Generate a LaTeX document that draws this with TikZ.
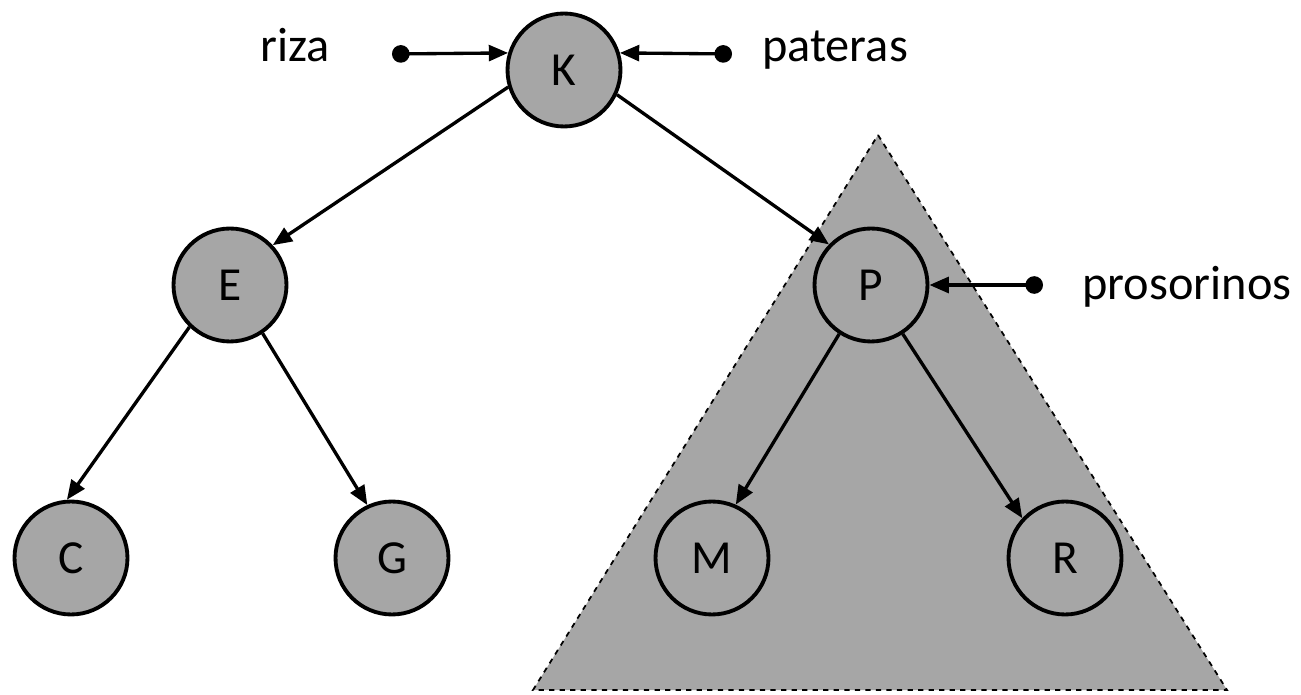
\documentclass[tikz,border=0pt]{standalone}
\usepackage{fontspec}
\setmainfont{Carlito}
\usetikzlibrary{arrows.meta}
\definecolor{treegray}{HTML}{A6A6A6}

\begin{document}
\begin{tikzpicture}[x=0.02cm,y=-0.02cm,
  vertex/.style={circle,draw,line width=2.2pt,fill=treegray,minimum size=2.26cm,inner sep=0pt,font=\fontsize{27}{31}\selectfont},
  edge/.style={line width=1.9pt,-{Triangle[length=11pt,width=9pt]}},
  pointer/.style={line width=1.9pt,{Circle[length=10pt]}-{Triangle[length=11pt,width=9pt]}},
  ptrname/.style={anchor=base,font=\fontsize{27.5}{31}\selectfont}]
\useasboundingbox (0,0) rectangle (1301,695);
% subtree of P
\draw[fill=treegray,dashed,line width=1pt] (878,135) -- (1227,690) -- (533,690) -- cycle;
% nodes
\node[vertex] (K) at (564,70) {K};
\node[vertex] (E) at (230,285) {E};
\node[vertex] (P) at (871,285) {P};
\node[vertex] (C) at (71,558) {C};
\node[vertex] (G) at (392,558) {G};
\node[vertex] (M) at (712,558) {M};
\node[vertex] (R) at (1065,558) {R};
% tree edges
\draw[edge] (K.197) -- (E.43);
\draw[edge] (K.335) -- (P.136);
\draw[edge] (E.226) -- (C.94);
\draw[edge] (E.304) -- (G.115);
\draw[edge] (P.237) -- (M.66);
\draw[edge] (P.303) -- (R.137);
% pointers
\coordinate (riza) at (392,54);
\coordinate (pateras) at (732,54);
\coordinate (prosorinos) at (1043,285);
\draw[pointer] (riza) -- (K.163);
\draw[pointer] (pateras) -- (K.17);
\draw[pointer] (prosorinos) -- (P.east);
\node[ptrname] (rizaname) at (295,62) {riza};
\node[ptrname] (paterasname) at (835,62) {pateras};
\node[ptrname] (prosorinosname) at (1187,300) {prosorinos};
\end{tikzpicture}
\end{document}
